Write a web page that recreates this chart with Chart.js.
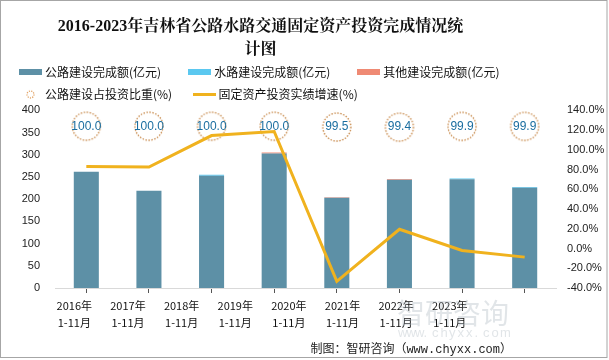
<!DOCTYPE html>
<html><head><meta charset="utf-8">
<script src="https://cdn.jsdelivr.net/npm/chart.js@4.4.0/dist/chart.umd.min.js"></script>
<style>html,body{margin:0;padding:0;background:#fff;}canvas{display:block;}</style>
</head><body>
<canvas id="c" width="609" height="360"></canvas>
<script>
// ---- data ----
const years = ['2016年','2017年','2018年','2019年','2020年','2021年','2022年','2023年'];
const period = '1-11月';
const highway = [262, 219, 253, 303, 203, 244, 245, 226];
const waterway = [0, 0, 2, 0, 0, 0, 1.5, 1.5];
const otherWay = [0, 0, 0, 2, 1.5, 1.5, 0, 0];
const highwayShare = [100.0, 100.0, 100.0, 100.0, 99.5, 99.4, 99.9, 99.9];
const investGrowth = [83.2, 82.6, 114.5, 118.6, -33.2, 19.5, -1.9, -8.7];
const leftAxis = {min: 0, max: 400, step: 50};
const rightAxis = {min: -40, max: 140, step: 20};
const seriesNames = ['公路建设完成额(亿元)', '水路建设完成额(亿元)', '其他建设完成额(亿元)', '公路建设占投资比重(%)', '固定资产投资实绩增速(%)'];

// ---- styles ----
const C_HW = '#5d90a6', C_WW = '#5bc8f0', C_OT = '#ef8a74', C_LINE = '#f0b21e', C_RING = '#c4823f', C_SHARE_TXT = '#1b6ea0';

function ringCanvas(r, lw, color, dash) {
  const s = Math.ceil(2 * r + lw + 2);
  const c = document.createElement('canvas'); c.width = s; c.height = s;
  const g = c.getContext('2d'); g.strokeStyle = color; g.lineWidth = lw; g.setLineDash(dash);
  g.beginPath(); g.arc(s / 2, s / 2, r, 0, Math.PI * 2); g.stroke(); return c;
}
function rectCanvas(w, h, color) {
  const c = document.createElement('canvas'); c.width = w; c.height = h;
  const g = c.getContext('2d'); g.fillStyle = color; g.fillRect(0, 0, w, h); return c;
}
const ringBig = ringCanvas(14, 1.3, C_RING, [1.4, 1.6]);
const ringSmall = ringCanvas(3.5, 1.3, '#e0a060', [1.2, 1.2]);
const legendIcons = [rectCanvas(23, 6, C_HW), rectCanvas(23, 6, C_WW), rectCanvas(23, 6, C_OT), ringSmall, rectCanvas(23, 3, C_LINE)];
const legendPad = ['\u3000   ', '\u3000   ', '', '     ', ''];

const extraDraw = {
  id: 'extraDraw',
  beforeDatasetsDraw(chart) {
    const ctx = chart.ctx; ctx.save();
    ctx.fillStyle = 'rgba(170,180,190,0.35)';
    ctx.font = '28px "Noto Sans CJK SC"'; ctx.textAlign = 'left'; ctx.textBaseline = 'middle';
    ctx.fillText('智研咨询', 397, 313);
    ctx.font = '13px "Liberation Sans"';
    const w = 'www.chyxx.com'.split('');
    w.forEach((ch, i) => ctx.fillText(ch, 398 + i * 8.5, 333));
    ctx.restore();
  },
  afterDatasetsDraw(chart) {
    const ctx = chart.ctx; ctx.save();
    const meta = chart.getDatasetMeta(3);
    ctx.font = '12px "Liberation Sans"'; ctx.fillStyle = C_SHARE_TXT;
    ctx.textAlign = 'center'; ctx.textBaseline = 'middle';
    meta.data.forEach((pt, i) => ctx.fillText(highwayShare[i].toFixed(1), pt.x, pt.y));
    ctx.restore();
  },
  afterDraw(chart) {
    const ctx = chart.ctx; ctx.save();
    ctx.font = '12px "Liberation Mono","Noto Sans CJK SC"'; ctx.fillStyle = '#222';
    ctx.textAlign = 'right'; ctx.textBaseline = 'middle';
    ctx.fillText('制图：智研咨询（www.chyxx.com）', 512, 350);
    ctx.strokeStyle = '#a6a6a6'; ctx.lineWidth = 1;
    ctx.strokeRect(0.5, 0.5, 606.5, 357);
    ctx.restore();
  }
};

new Chart(document.getElementById('c'), {
  type: 'bar',
  data: {
    labels: years,
    datasets: [
      {label: seriesNames[0], data: highway, backgroundColor: C_HW, yAxisID: 'y', stack: 's', order: 3, barPercentage: 0.4, categoryPercentage: 1},
      {label: seriesNames[1], data: waterway, backgroundColor: C_WW, yAxisID: 'y', stack: 's', order: 3, barPercentage: 0.4, categoryPercentage: 1},
      {label: seriesNames[2], data: otherWay, backgroundColor: C_OT, yAxisID: 'y', stack: 's', order: 3, barPercentage: 0.4, categoryPercentage: 1},
      {type: 'line', label: seriesNames[3], data: highwayShare, yAxisID: 'yShare', showLine: false, pointStyle: ringBig, pointRadius: 14, pointHoverRadius: 14, order: 2},
      {type: 'line', label: seriesNames[4], data: investGrowth, yAxisID: 'y1', borderColor: C_LINE, borderWidth: 3, pointRadius: 0, tension: 0, fill: false, order: 1}
    ]
  },
  options: {
    responsive: false, animation: false, devicePixelRatio: 1,
    layout: {padding: {left: 12, right: 4, top: 0, bottom: 24}},
    plugins: {
      tooltip: {enabled: false},
      title: {
        display: true,
        text: ['2016-2023年吉林省公路水路交通固定资产投资完成情况统\u3000\u3000\u3000\u3000\u3000\u3000', '计图\u3000\u3000\u3000\u3000\u3000\u3000'],
        color: '#111', font: {size: 16, weight: 'bold', family: '"Liberation Serif","Noto Serif CJK SC","Noto Sans CJK SC"', lineHeight: 1.45},
        padding: {top: 15, bottom: -5}
      },
      legend: {
        position: 'top', align: 'start',
        labels: {
          usePointStyle: true, pointStyleWidth: 17, padding: 10,
          color: '#111', font: {size: 12, family: '"Noto Sans CJK SC"'},
          generateLabels: () => seriesNames.map((t, i) => ({
            text: t + legendPad[i], pointStyle: legendIcons[i], fillStyle: 'rgba(0,0,0,0)', strokeStyle: 'rgba(0,0,0,0)',
            lineWidth: 0, hidden: false, datasetIndex: i, fontColor: '#111'
          }))
        }
      }
    },
    scales: {
      x: {
        type: 'category', position: 'bottom', stacked: true, offset: true, weight: 0,
        grid: {display: true, drawOnChartArea: false, drawTicks: true, tickLength: 5, color: '#555', offset: false},
        border: {display: true, color: '#d9d9d9'},
        ticks: {display: false}
      },
      xl: {
        type: 'linear', position: 'bottom', weight: 1, offset: false,
        min: -0.36, max: 8.98,
        ticks: {includeBounds: true, autoSkip: false, maxRotation: 0, padding: 5, color: '#111',
          font: {size: 11, family: '"Noto Sans CJK SC"', lineHeight: 1.5},
          callback: (v) => (Number.isInteger(v) && years[v]) ? [years[v], period] : ''},
        afterBuildTicks: (s) => { s.ticks = years.map((_, i) => ({value: i})); },
        grid: {display: false, drawTicks: false, offset: false}, border: {display: false}
      },
      y: {
        type: 'linear', position: 'left', stacked: true,
        min: leftAxis.min, max: leftAxis.max,
        afterFit: (s) => { s.width = 43; },
        grid: {display: false, drawTicks: false}, border: {display: false},
        ticks: {stepSize: leftAxis.step, padding: 15, color: '#222', font: {size: 11, family: '"Liberation Sans"'}}
      },
      yShare: {type: 'linear', position: 'left', display: false, min: 0, max: 109.76},
      y1: {
        type: 'linear', position: 'right',
        min: rightAxis.min, max: rightAxis.max,
        afterFit: (s) => { s.width = 49; },
        grid: {display: false, drawTicks: false}, border: {display: false},
        ticks: {stepSize: rightAxis.step, padding: 11, color: '#222', font: {size: 11, family: '"Liberation Sans"'},
          callback: (v) => v.toFixed(1) + '%'}
      }
    }
  },
  plugins: [extraDraw]
});
</script>
</body></html>
